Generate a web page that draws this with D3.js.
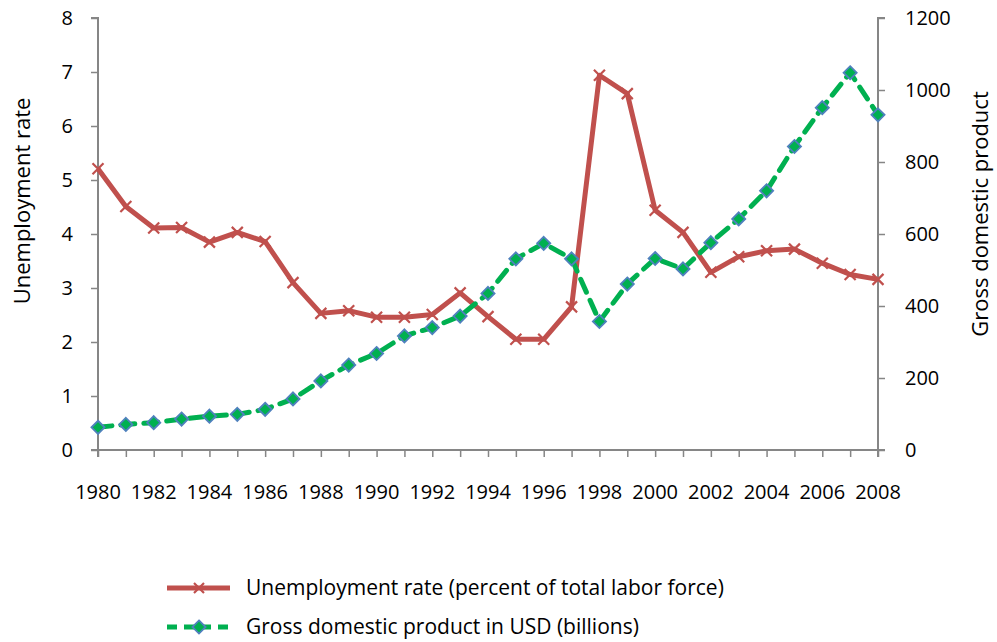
<!DOCTYPE html>
<html>
<head>
<meta charset="utf-8">
<script src="https://cdn.jsdelivr.net/npm/d3@7/dist/d3.min.js"></script>
<style>
  html, body { margin: 0; padding: 0; background: #fff; }
  svg { display: block; font-family: "Open Sans", "Noto Sans", sans-serif; }
</style>
</head>
<body>
<svg id="chart" width="997" height="642"></svg>
<script>
// Years on the x axis
const years = d3.range(1980, 2009);
// Unemployment rate, percent of total labor force (left axis)
const unemployment = [5.21, 4.51, 4.11, 4.12, 3.85, 4.03, 3.86, 3.10, 2.53, 2.58, 2.46,
  2.46, 2.51, 2.91, 2.47, 2.05, 2.05, 2.65, 6.94, 6.60, 4.44, 4.03, 3.29, 3.58, 3.69,
  3.72, 3.46, 3.25, 3.16];
// Gross domestic product in USD billions (right axis)
const gdp = [63, 71, 76, 86, 94, 99, 113, 142, 192, 236, 268, 317, 340, 372, 435, 531,
  574, 531, 357, 461, 532, 503, 576, 642, 720, 843, 951, 1048, 931];
const leftTicks = [0, 1, 2, 3, 4, 5, 6, 7, 8];
const rightTicks = [0, 200, 400, 600, 800, 1000, 1200];
const yearLabels = d3.range(1980, 2009, 2);

const seriesNames = [
  "Unemployment rate (percent of total labor force)",
  "Gross domestic product in USD (billions)"
];

const red = "#C0504D", green = "#00B050", blue = "#4F81BD", axisGrey = "#868686";

const svg = d3.select("#chart");
const plot = { left: 98, right: 878, top: 18, bottom: 450 };

const x = d3.scaleLinear().domain([1980, 2008]).range([plot.left, plot.right]);
const yL = d3.scaleLinear().domain([0, 8]).range([plot.bottom, plot.top]);
const yR = d3.scaleLinear().domain([0, 1200]).range([plot.bottom, plot.top]);

// Axes
const leftAxis = d3.axisLeft(yL).tickValues(leftTicks).tickSize(7).tickPadding(18).tickFormat(d3.format("d"));
const rightAxis = d3.axisRight(yR).tickValues(rightTicks).tickSize(7).tickPadding(20).tickFormat(d3.format("d"));
const bottomAxis = d3.axisBottom(x).tickValues(years).tickSize(7).tickFormat("");

function styleAxis(g) {
  g.select(".domain").attr("stroke", axisGrey).attr("stroke-width", 2);
  g.selectAll(".tick line").attr("stroke", axisGrey).attr("stroke-width", 1.5);
  g.selectAll(".tick text").attr("fill", "#000").style("font-size", "20px")
    .style("font-family", "'Open Sans', sans-serif");
}

svg.append("g").attr("transform", `translate(${plot.left},0)`).call(leftAxis).call(styleAxis)
  .call(g => g.select(".domain").attr("d", `M-7,${plot.top}H0V${plot.bottom}H-7`));
svg.append("g").attr("transform", `translate(${plot.right},0)`).call(rightAxis).call(styleAxis)
  .call(g => g.select(".domain").attr("d", `M7,${plot.top}H0V${plot.bottom}H7`));
svg.append("g").attr("transform", `translate(0,${plot.bottom})`).call(bottomAxis).call(styleAxis)
  .call(g => g.select(".domain").attr("d", `M${plot.left},7V0H${plot.right}V7`));

// Year labels every two years
svg.append("g").selectAll("text").data(yearLabels).join("text")
  .attr("x", d => x(d)).attr("y", 499)
  .attr("text-anchor", "middle")
  .style("font-size", "20px")
  .text(d => d);

// Axis titles
svg.append("text")
  .attr("transform", "translate(30,201) rotate(-90)")
  .attr("text-anchor", "middle")
  .style("font-size", "22px")
  .text("Unemployment rate");
svg.append("text")
  .attr("transform", "translate(988,214) rotate(-90)")
  .attr("text-anchor", "middle")
  .style("font-size", "22px")
  .text("Gross domestic product");

// Marker helpers
function crossPath(s) {
  return `M${-s},${-s}L${s},${s}M${-s},${s}L${s},${-s}`;
}
const diamond = d3.symbol().type(d3.symbolDiamond2).size(110);

// Unemployment line
const uData = years.map((yr, i) => ({ yr, v: unemployment[i] }));
svg.append("path").datum(uData)
  .attr("fill", "none").attr("stroke", red).attr("stroke-width", 5)
  .attr("stroke-linejoin", "round")
  .attr("d", d3.line().x(d => x(d.yr)).y(d => yL(d.v)));
svg.append("g").selectAll("path").data(uData).join("path")
  .attr("transform", d => `translate(${x(d.yr)},${yL(d.v)})`)
  .attr("d", crossPath(5.5))
  .attr("stroke", red).attr("stroke-width", 2.2).attr("fill", "none");

// GDP line
const gData = years.map((yr, i) => ({ yr, v: gdp[i] }));
svg.append("path").datum(gData)
  .attr("fill", "none").attr("stroke", green).attr("stroke-width", 5)
  .attr("stroke-dasharray", "14,9")
  .attr("stroke-linecap", "round")
  .attr("d", d3.line().x(d => x(d.yr)).y(d => yR(d.v)));
svg.append("g").selectAll("path").data(gData).join("path")
  .attr("transform", d => `translate(${x(d.yr)},${yR(d.v)})`)
  .attr("d", diamond)
  .attr("fill", green).attr("stroke", blue).attr("stroke-width", 1.8);

// Legend
const legend = svg.append("g");
const legendRows = [
  { y: 588, name: seriesNames[0] },
  { y: 627, name: seriesNames[1] }
];
// row 1: solid red with cross
legend.append("line").attr("x1", 167).attr("x2", 230).attr("y1", legendRows[0].y).attr("y2", legendRows[0].y)
  .attr("stroke", red).attr("stroke-width", 5);
legend.append("path").attr("transform", `translate(199,${legendRows[0].y})`)
  .attr("d", crossPath(5)).attr("stroke", red).attr("stroke-width", 2.2);
// row 2: dashed green with diamond
legend.append("line").attr("x1", 167).attr("x2", 232).attr("y1", legendRows[1].y).attr("y2", legendRows[1].y)
  .attr("stroke", green).attr("stroke-width", 5).attr("stroke-dasharray", "10,7");
legend.append("path").attr("transform", `translate(199,${legendRows[1].y})`)
  .attr("d", diamond).attr("fill", green).attr("stroke", blue).attr("stroke-width", 1.8);
legend.selectAll("text.lbl").data(legendRows).join("text")
  .attr("class", "lbl")
  .attr("x", 246).attr("y", d => d.y)
  .attr("dy", "0.35em")
  .style("font-size", "21px")
  .text(d => d.name);
</script>
</body>
</html>
